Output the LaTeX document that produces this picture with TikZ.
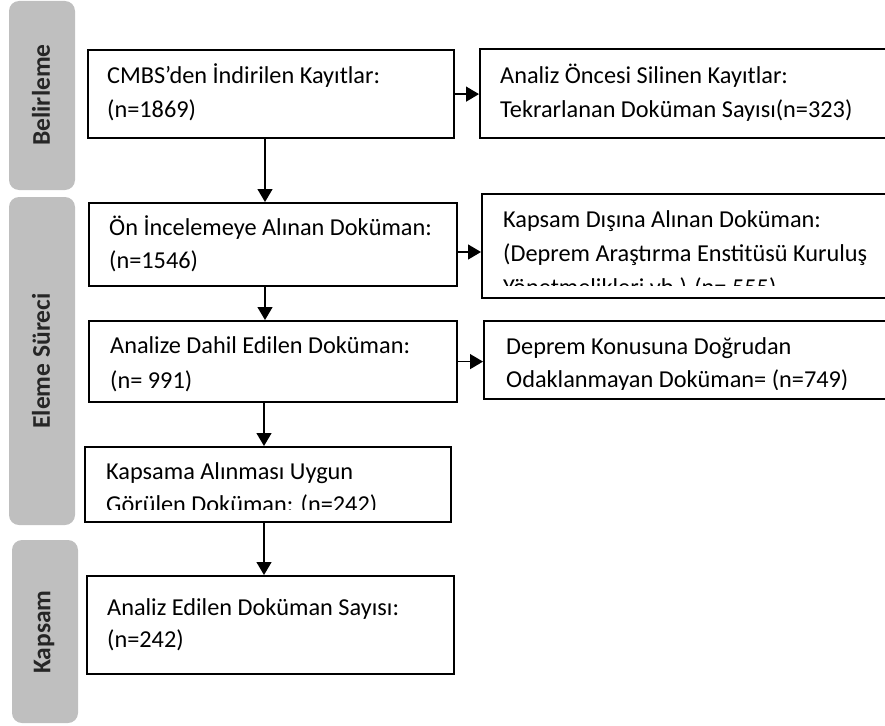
\documentclass[tikz,border=0pt]{standalone}
\usepackage{fontspec}
\setmainfont{Carlito}
\usetikzlibrary{arrows.meta}
\definecolor{panelgray}{HTML}{BFBFBF}
\definecolor{labtext}{HTML}{262626}
\begin{document}
\begin{tikzpicture}[x=1pt,y=-1pt,
  panel/.style={fill=panelgray, draw=none, rounded corners=10pt},
  box/.style={draw=black, line width=2.2pt, rectangle, inner sep=0pt, anchor=north west},
  txt/.style={anchor=base west, inner sep=0pt, font=\fontsize{24.3}{28}\selectfont},
  lab/.style={rotate=90, inner sep=0pt, text=labtext, font=\bfseries\fontsize{25.5}{29}\selectfont},
  arr/.style={-{Triangle[length=13pt,width=15pt]}, line width=1.3pt}]
\useasboundingbox (0,0) rectangle (885,725);
\clip (0,0) rectangle (885,725);

% side panels
\path[panel] (9,1) rectangle (75,190);
\path[panel] (9,197) rectangle (75,525);
\path[panel] (12,540) rectangle (78,723);
\node[lab] (l1) at (41,95) {Belirleme};
\node[lab] (l2) at (41,361) {Eleme Süreci};
\node[lab] (l3) at (44,632) {Kapsam};

% boxes
\node[box, minimum width=366pt, minimum height=88pt] (b1) at (87,49) {};
\node[box, minimum width=416pt, minimum height=89pt] (b2) at (479,48) {};
\node[box, minimum width=368pt, minimum height=83pt] (b3) at (88,202) {};
\node[box, minimum width=414pt, minimum height=104pt] (b4) at (481,193) {};
\node[box, minimum width=368pt, minimum height=81pt] (b5) at (88,320) {};
\node[box, minimum width=412pt, minimum height=78pt] (b6) at (483,320) {};
\node[box, minimum width=366pt, minimum height=75pt] (b7) at (84,446) {};
\node[box, minimum width=367pt, minimum height=98pt] (b8) at (86,575) {};

% texts
\node[txt] (t1a) at (107,83) {CMBS’den İndirilen Kayıtlar:};
\node[txt] (t1b) at (107,117) {(n=1869)};
\node[txt] (t2a) at (500,83) {Analiz Öncesi Silinen Kayıtlar:};
\node[txt] (t2b) at (500,117) {Tekrarlanan Doküman Sayısı(n=323)};
\node[txt] (t3a) at (109,235) {Ön İncelemeye Alınan Doküman:};
\node[txt] (t3b) at (109,268) {(n=1546)};
\begin{scope}
  \clip (483,195) rectangle (885,285);
  \node[txt] (t4a) at (503,227) {Kapsam Dışına Alınan Doküman:};
  \node[txt] (t4b) at (503,261) {(Deprem Araştırma Enstitüsü Kuruluş};
  \node[txt] (t4c) at (503,295) {Yönetmelikleri vb.) (n= 555)};
\end{scope}
\node[txt] (t5a) at (110,353) {Analize Dahil Edilen Doküman:};
\node[txt] (t5b) at (110,388) {(n= 991)};
\begin{scope}
  \clip (485,322) rectangle (885,389);
  \node[txt] (t6a) at (506,354) {Deprem Konusuna Doğrudan};
  \node[txt] (t6b) at (506,387) {Odaklanmayan Doküman= (n=749)};
\end{scope}
\begin{scope}
  \clip (86,448) rectangle (448,509);
  \node[txt] (t7a) at (106,479) {Kapsama Alınması Uygun};
  \node[txt] (t7b) at (106,512) {Görülen Doküman: (n=242)};
\end{scope}
\node[txt] (t8a) at (107,615) {Analiz Edilen Doküman Sayısı:};
\node[txt] (t8b) at (107,647) {(n=242)};

% connectors
\coordinate (v1) at (265,0);
\coordinate (v2) at (264,0);
\coordinate (h2) at (0,252);
\draw[arr] (b1.south -| v1) -- (b3.north -| v1);
\draw[arr] (b3.south -| v1) -- (b5.north -| v1);
\draw[arr] (b5.south -| v2) -- (b7.north -| v2);
\draw[arr] (b7.south -| v2) -- (b8.north -| v2);
\draw[arr] (b1.east) -- (b2.west |- b1.east);
\draw[arr] (b3.east |- h2) -- (b4.west |- h2);
\draw[arr] (b5.east) -- (b6.west |- b5.east);
\end{tikzpicture}
\end{document}
